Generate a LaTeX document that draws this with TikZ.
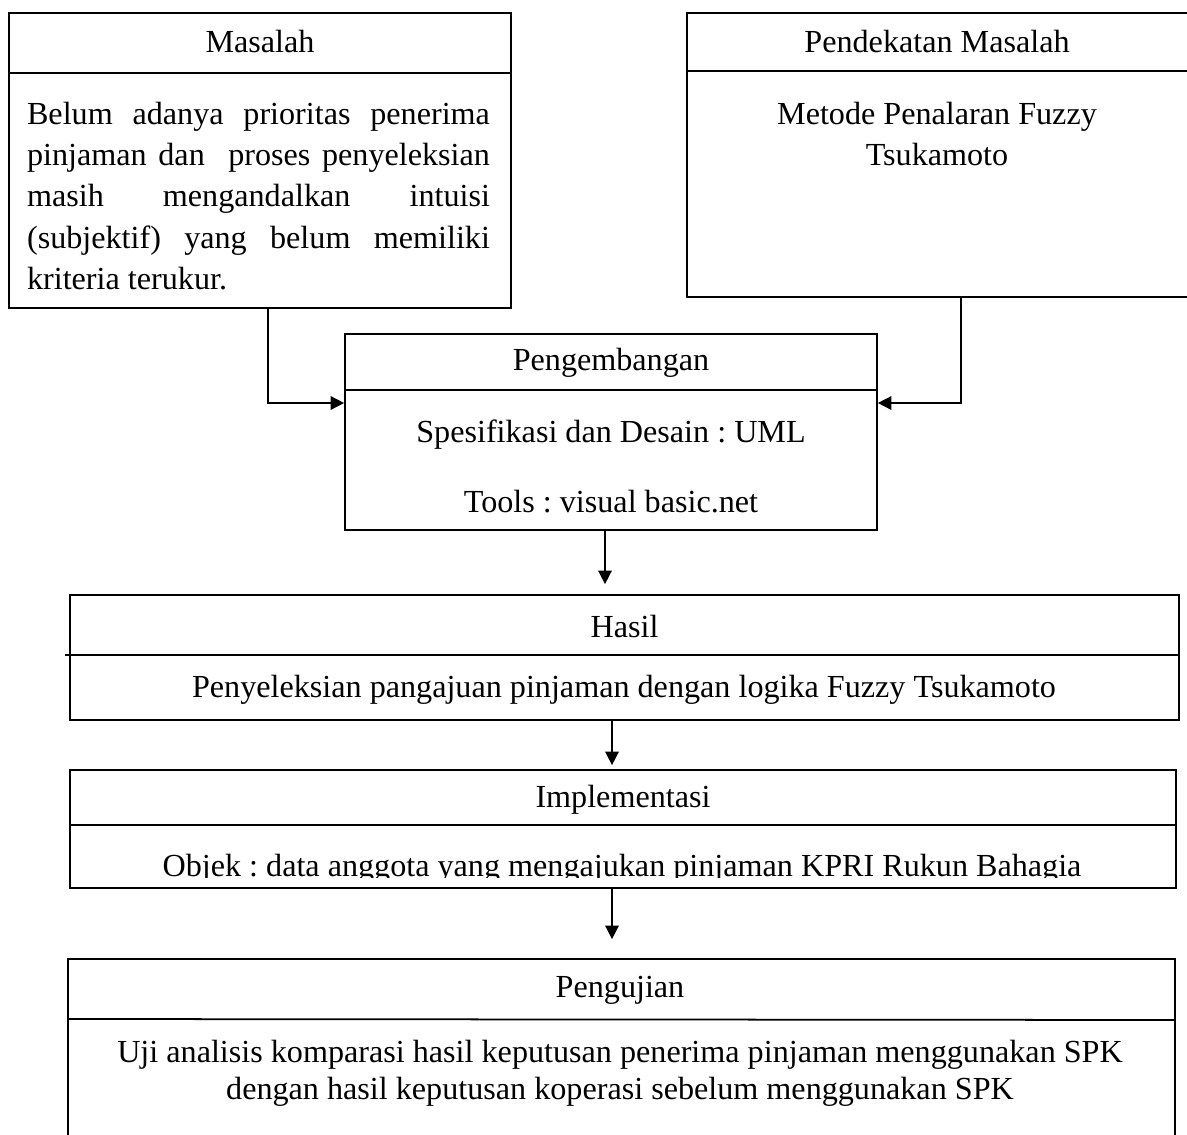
\documentclass[tikz,border=0pt]{standalone}
\usepackage{fontspec}
\setmainfont{Liberation Serif}
\usetikzlibrary{arrows.meta}
\frenchspacing
\begin{document}
\begin{tikzpicture}[x=0.02cm, y=-0.02cm,
    every node/.style={font=\fontsize{18.3}{23.5}\selectfont},
    box/.style={draw, line width=1pt, inner sep=0pt},
    arr/.style={-{Triangle[length=0.27cm,width=0.27cm]}, line width=0.9pt}]
        \clip (0,0) rectangle (1187,1135);
        % Masalah box
        \node[box, minimum width=10.04cm, minimum height=5.9cm] (masalah) at (260,160.5) {};
        \draw[line width=1pt] (masalah.west |- 0,73) -- (masalah.east |- 0,73);
        \node (masalahT) at (260,42) {Masalah};
        \node[text width=9.26cm, align=justify] (masalahB) at (258.5,196) {Belum adanya prioritas penerima\linebreak
            pinjaman dan~ proses penyeleksian\linebreak
            masih mengandalkan intuisi\linebreak
            (subjektif) yang belum memiliki\linebreak
            kriteria terukur.};
        % Pendekatan Masalah box
        \node[box, minimum width=10.16cm, minimum height=5.68cm] (pendekatan) at (941,155) {};
        \draw[line width=1pt] (pendekatan.west |- 0,71) -- (pendekatan.east |- 0,71);
        \node (pendekatanT) at (937,42) {Pendekatan Masalah};
        \node[align=center, font=\fontsize{18.3}{23.8}\selectfont] (pendekatanB) at (937,134) {Metode Penalaran Fuzzy\\Tsukamoto};
        % Pengembangan box
        \node[box, minimum width=10.64cm, minimum height=3.92cm] (pengembangan) at (611,432) {};
        \draw[line width=1pt] (pengembangan.west |- 0,390) -- (pengembangan.east |- 0,390);
        \node (pengembanganT) at (611,363) {Pengembangan};
        \node (spesifikasi) at (611,435) {Spesifikasi dan Desain : UML};
        \node (tools) at (611,502) {Tools : visual basic.net};
        % Hasil box
        \node[box, minimum width=22.18cm, minimum height=2.5cm] (hasil) at (624.5,657.5) {};
        \draw[line width=1pt] ([xshift=-0.08cm]hasil.west |- 0,655) -- (hasil.east |- 0,655);
        \node (hasilT) at (624.5,626) {Hasil};
        \node (hasilB) at (624,690) {Penyeleksian pangajuan pinjaman dengan logika Fuzzy Tsukamoto};
        % Implementasi box
        \node[box, minimum width=22.12cm, minimum height=2.36cm] (implementasi) at (623,829) {};
        \draw[line width=1pt] (implementasi.west |- 0,825) -- (implementasi.east |- 0,825);
        \node (implementasiT) at (623,800) {Implementasi};
        \begin{scope}
            \clip (implementasi.west |- 0,826) rectangle (implementasi.east |- 0,877);
            \node (implementasiB) at (622,869) {Objek : data anggota yang mengajukan pinjaman KPRI Rukun Bahagia};
        \end{scope}
        % Pengujian box
        \node[box, minimum width=22.14cm, minimum height=4.02cm] (pengujian) at (621.5,1059.5) {};
        \draw[line width=1pt] (pengujian.west |- 0,1019) -- (pengujian.east |- 0,1020);
        \node (pengujianT) at (620,990) {Pengujian};
        \node[align=center, font=\fontsize{18.3}{21}\selectfont] (pengujianB) at (620,1073) {Uji analisis komparasi hasil keputusan penerima pinjaman menggunakan SPK\\dengan hasil keputusan koperasi sebelum menggunakan SPK};
        % Connectors
        \draw[arr] ([xshift=0.16cm]masalah.south) |- ([yshift=0.58cm]pengembangan.west);
        \draw[arr] ([xshift=0.4cm]pendekatan.south) |- ([yshift=0.58cm]pengembangan.east);
        \draw[arr, shorten >=0.2cm] ([xshift=-0.12cm]pengembangan.south) -- ([xshift=-0.12cm]pengembangan.south |- hasil.north);
        \draw[arr, shorten >=0.08cm] ([xshift=-0.25cm]hasil.south) -- ([xshift=-0.25cm]hasil.south |- implementasi.north);
        \draw[arr, shorten >=0.38cm] ([xshift=-0.22cm]implementasi.south) -- ([xshift=-0.22cm]implementasi.south |- pengujian.north);
    \end{tikzpicture}
\end{document}
